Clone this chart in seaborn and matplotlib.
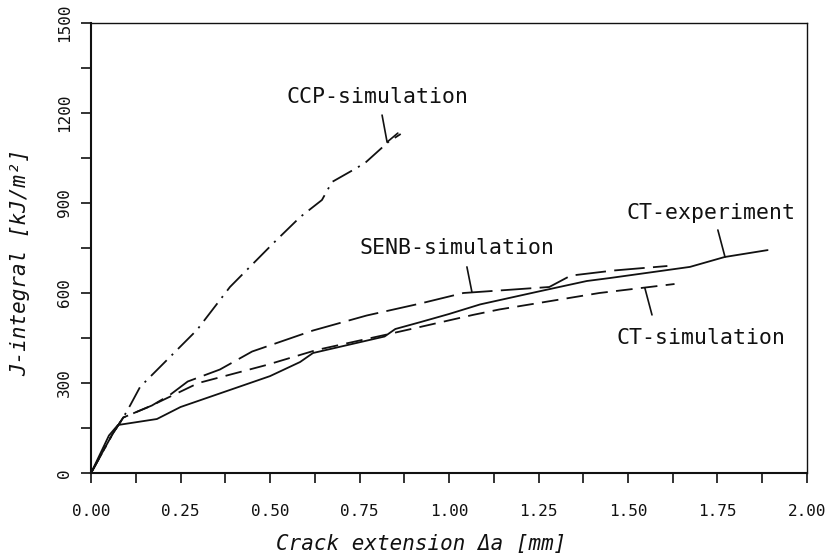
import pandas as pd
import seaborn as sns
import matplotlib.pyplot as plt
from matplotlib.ticker import MultipleLocator

# curves (crack extension in mm, J in kJ/m^2)
ct_exp_x = [0.0, 0.05, 0.075, 0.184, 0.25, 0.50, 0.584, 0.62, 0.82, 0.85, 0.92, 1.00,
            1.087, 1.25, 1.385, 1.45, 1.673, 1.77, 1.89]
ct_exp_y = [0, 125, 160, 180, 220, 323, 370, 400, 455, 480, 503, 530,
            562, 605, 640, 650, 687, 720, 743]

senb_x = [0.0, 0.06, 0.09, 0.17, 0.22, 0.27, 0.36, 0.45, 0.62, 0.77, 0.92, 1.04,
          1.28, 1.34, 1.46, 1.61]
senb_y = [0, 130, 185, 225, 260, 305, 345, 405, 475, 525, 565, 600,
          620, 658, 675, 690]

ct_sim_x = [0.0, 0.06, 0.09, 0.17, 0.19, 0.30, 0.49, 0.63, 0.82, 0.92, 1.067, 1.14,
            1.42, 1.63]
ct_sim_y = [0, 130, 185, 225, 237, 300, 360, 410, 460, 487, 527, 545,
            600, 630]

ccp_x = [0.0, 0.06, 0.09, 0.11, 0.137, 0.296, 0.388, 0.51, 0.584, 0.645, 0.673,
         0.732, 0.765, 0.83, 0.865]
ccp_y = [0, 130, 185, 227, 287, 477, 620, 767, 853, 910, 970,
         1010, 1033, 1103, 1130]

series = {
    "CT-experiment": (ct_exp_x, ct_exp_y),
    "SENB-simulation": (senb_x, senb_y),
    "CT-simulation": (ct_sim_x, ct_sim_y),
    "CCP-simulation": (ccp_x, ccp_y),
}
line_styles = {
    "CT-experiment": "-",
    "SENB-simulation": (0, (22, 6)),
    "CT-simulation": (0, (12, 6)),
    "CCP-simulation": (0, (16, 5, 1.5, 5)),
}

# label text positions and leader lines
labels = {
    "CCP-simulation": (0.547, 1253),
    "CT-experiment": (1.497, 867),
    "SENB-simulation": (0.751, 750),
    "CT-simulation": (1.469, 450),
}
leaders = [
    [(0.813, 1193), (0.827, 1103), (0.857, 1133)],
    [(1.751, 810), (1.771, 720)],
    [(1.050, 687), (1.064, 603)],
    [(1.547, 617), (1.567, 527)],
]

rows = []
for name, (xs, ys) in series.items():
    for x, y in zip(xs, ys):
        rows.append({"series": name, "da": x, "J": y})
df = pd.DataFrame(rows)

sns.set_theme(style="ticks")
plt.rcParams["font.family"] = ["DejaVu Sans Mono", "DejaVu Sans"]
plt.rcParams["lines.scale_dashes"] = False

fig = plt.figure(figsize=(8.36, 5.58), dpi=100)
ax = fig.add_axes([0.1089, 0.1523, 0.8564, 0.8065])

ink = "#111111"
for name in series:
    sns.lineplot(data=df[df["series"] == name], x="da", y="J", ax=ax,
                 estimator=None, sort=False, color=ink, linewidth=1.3,
                 linestyle=line_styles[name])

for pts in leaders:
    ax.plot([p[0] for p in pts], [p[1] for p in pts], color=ink, linewidth=1.2)

for name, (tx, ty) in labels.items():
    ax.text(tx, ty, name, fontsize=15.5, ha="left", va="center", color=ink)

ax.set_xlim(0, 2.0)
ax.set_ylim(0, 1500)
ax.xaxis.set_major_locator(MultipleLocator(0.25))
ax.xaxis.set_minor_locator(MultipleLocator(0.125))
ax.yaxis.set_major_locator(MultipleLocator(300))
ax.yaxis.set_minor_locator(MultipleLocator(150))
ax.xaxis.set_major_formatter(lambda v, p: f"{v:.2f}")

ax.tick_params(which="both", direction="out", length=7, width=1.2, color=ink,
               top=False, right=False)
ax.tick_params(axis="x", labelsize=11.5, pad=15, labelcolor=ink)
ax.tick_params(axis="y", labelsize=11.5, pad=7, labelrotation=90, labelcolor=ink)
for lab in ax.get_yticklabels():
    lab.set_va("center")

for side in ["left", "bottom"]:
    ax.spines[side].set_linewidth(1.5)
for side in ["top", "right"]:
    ax.spines[side].set_linewidth(1.0)
for sp in ax.spines.values():
    sp.set_color(ink)

ax.set_xlabel("Crack extension Δa [mm]", fontsize=15, fontstyle="italic", color=ink)
ax.set_ylabel("J-integral [kJ/m²]", fontsize=15, fontstyle="italic", color=ink)
ax.xaxis.set_label_coords(0.461, -0.135)
ax.yaxis.set_label_coords(-0.085, 0.469)

fig.savefig("out.png", dpi=100)
